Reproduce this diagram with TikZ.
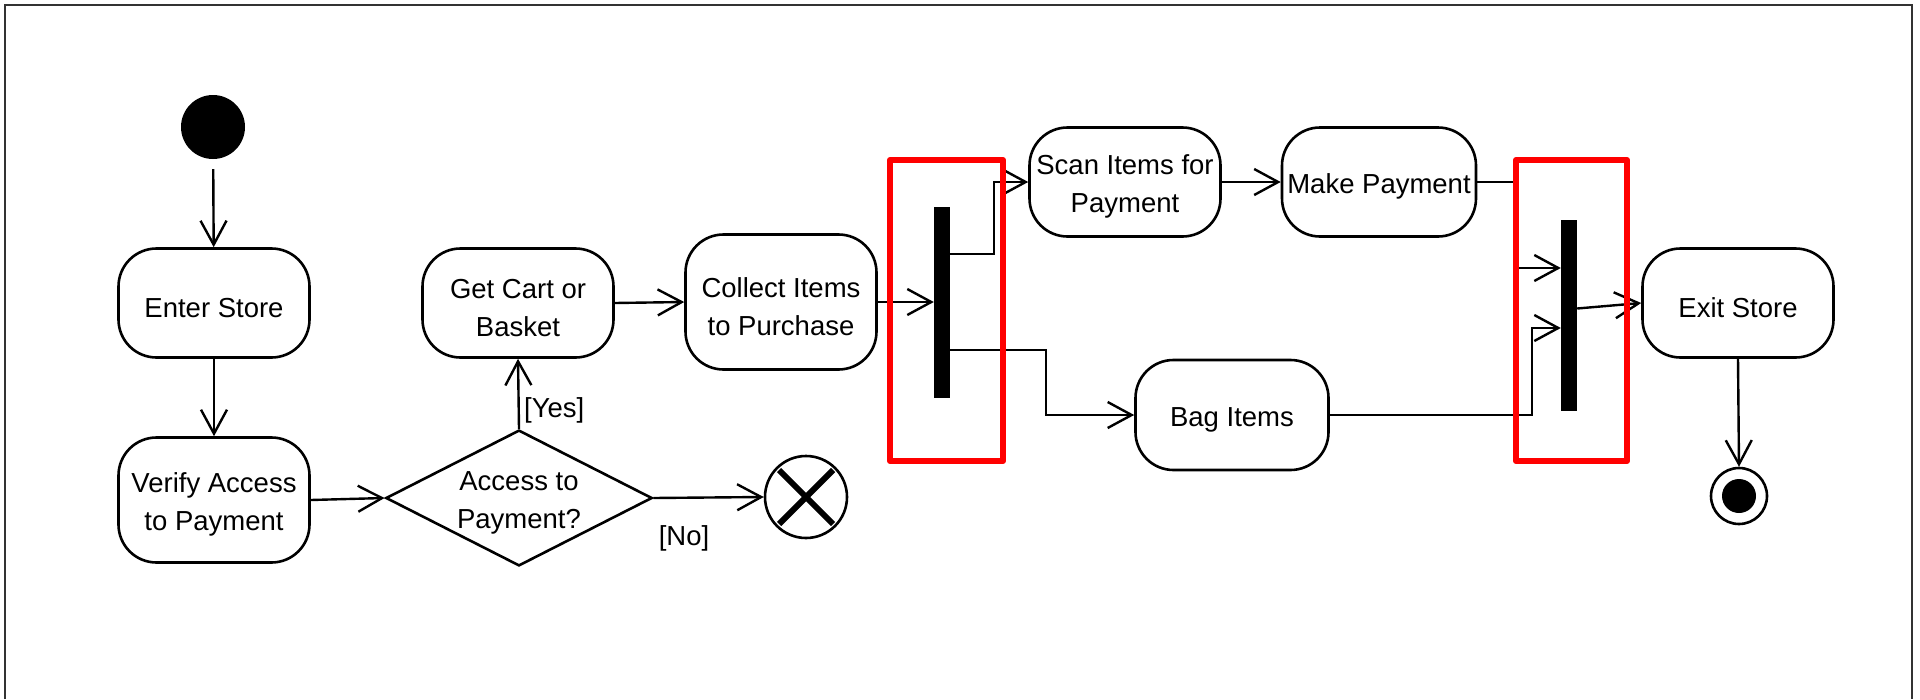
\documentclass[tikz,border=0pt]{standalone}
\usepackage{fontspec}
\setmainfont{Liberation Sans}
\usetikzlibrary{arrows.meta,shapes.geometric}
% raises the first line's height so the text block sits a little lower
\newcommand\toplift{\rule{0pt}{29pt}}
\begin{document}
\begin{tikzpicture}[x=1pt,y=-1pt,
  every node/.style={font=\fontsize{27.5}{38}\selectfont},
  action/.style={draw, line width=2.6pt, rounded corners=38pt, minimum width=191pt,
    minimum height=109pt, align=center, inner sep=0pt},
  decision/.style={draw, diamond, line width=2.6pt, aspect=1.96, minimum width=264pt,
    minimum height=135pt, align=center, inner sep=0pt},
  flow/.style={line width=2.4pt, -{Straight Barb[length=24pt,width=26pt]}},
  syncbar/.style={fill=black, minimum width=16pt, minimum height=191pt, inner sep=0pt},
  highlight/.style={draw=red, line width=6pt, line join=round},
  guard/.style={inner sep=0pt},
]
\useasboundingbox (0,0) rectangle (1920,699);

% frame (open at the bottom)
\draw[line width=2.5pt, black!80] (5,699) -- (5,5) -- (1912,5) -- (1912,699);

% initial node
\node[circle, fill=black, minimum size=64pt, inner sep=0pt] (start) at (213,127) {};

% actions
\node[action] (enter)   at (214,303) {\toplift Enter Store};
\node[action, minimum height=125pt] (verify) at (214,500) {\toplift Verify Access\\to Payment};
\node[decision] (access) at (519,498) {\toplift Access to\\Payment?};
\node[action] (cart)    at (518,303) {\toplift Get Cart or\\Basket};
\node[action, minimum height=135pt] (collect) at (781,302) {\toplift Collect Items\\to Purchase};
\node[syncbar] (fork)   at (942,302) {};
\node[action] (scan)    at (1125,182) {\toplift Scan Items for\\Payment};
\node[action, minimum width=194pt] (pay) at (1379,182) {\toplift Make Payment};
\node[action, minimum width=193pt, minimum height=110pt] (bag) at (1232,415) {\toplift Bag Items};
\node[syncbar] (join)   at (1569,315.5) {};
\node[action] (exit)    at (1738,303) {\toplift Exit Store};

% flow final (cancel) node
\node[circle, draw, line width=2.6pt, minimum size=82pt, inner sep=0pt] (cancel) at (806,497) {};
\draw[line width=6pt] (cancel.center) ++(-27,-27) -- ++(54,54);
\draw[line width=6pt] (cancel.center) ++(27,-27) -- ++(-54,54);

% activity final node
\node[circle, draw, line width=2.6pt, fill=white, minimum size=56pt, inner sep=0pt] (final) at (1739,496) {};
\node[circle, fill=black, minimum size=34pt, inner sep=0pt] at (final.center) {};

% guards
\node[guard, anchor=west] (yes) at (524,410) {[Yes]};
\node[guard] (no) at (684,538) {[No]};

% connectors
\draw[flow, shorten <=10pt] (start) -- (enter);
\draw[flow] (enter) -- (verify);
\draw[flow] (verify.east) -- (access.west);
\draw[flow] (access.north) -- (cart.south);
\draw[flow] (access.east) -- (cancel.west);
\draw[flow] (cart.east) -- (collect.west);
\draw[flow] (collect.east) -- (fork.west);
\draw[flow] ([yshift=48pt]fork.east) -- ++(44,0) |- (scan.west);
\draw[flow] ([yshift=-48pt]fork.east) -- ++(96,0) |- (bag.west);
\draw[flow] (scan.east) -- (pay.west);
\draw[flow] (pay.east) -- ++(40,0) |- ([yshift=47.5pt]join.west);
\draw[flow] (bag.east) -- ++(202,0) |- ([yshift=-12.5pt]join.west);
\draw[flow] ([yshift=7pt]join.east) -- (exit.west);
\draw[flow] (exit.south) -- (final.north);

% highlighted fork and join
\draw[highlight] (890,160) rectangle (1003,461);
\draw[highlight] (1516,160) rectangle (1627,461);
\end{tikzpicture}
\end{document}
